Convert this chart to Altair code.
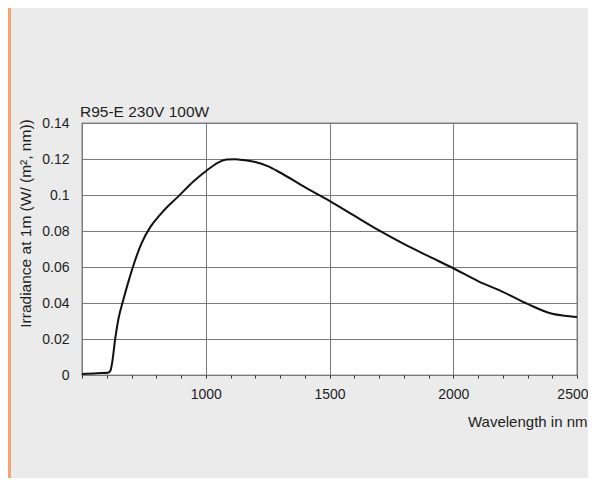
import altair as alt
import pandas as pd

# Spectral irradiance
wavelength = [500, 560, 605, 615, 622, 634, 647, 667, 690, 708, 740, 775, 815,
              850, 883, 950, 1000, 1050, 1085, 1120, 1152, 1200, 1250, 1300,
              1400, 1500, 1600, 1700, 1800, 1900, 2000, 2100, 2200, 2300, 2400,
              2450, 2500]
irradiance = [0.0005, 0.001, 0.0012, 0.0025, 0.007, 0.020, 0.031, 0.0418, 0.053,
              0.061, 0.073, 0.082, 0.089, 0.0942, 0.0984, 0.1075, 0.1132, 0.1180,
              0.1197, 0.1198, 0.1194, 0.1183, 0.1160, 0.1125, 0.1044, 0.0968,
              0.0885, 0.0803, 0.0728, 0.0660, 0.0593, 0.0522, 0.0462, 0.0395,
              0.0340, 0.0329, 0.0322]

x_ticks = list(range(500, 2600, 100))
y_ticks = [0, 0.02, 0.04, 0.06, 0.08, 0.1, 0.12, 0.14]

title_text = "R95-E 230V 100W"
x_title = "Wavelength in nm"
y_title = "Irradiance at 1m (W/ (m², nm))"

FONT = "Liberation Sans"
TXT = "#1e1e1e"

df = pd.DataFrame({"wl": wavelength, "irr": irradiance})

line = alt.Chart(df).mark_line(color="#111111", strokeWidth=2, interpolate="monotone").encode(
    x=alt.X(
        "wl:Q",
        scale=alt.Scale(domain=[500, 2500], nice=False, zero=False),
        axis=alt.Axis(
            values=x_ticks,
            format="d",
            labelExpr="datum.value % 500 === 0 && datum.value > 500 ? datum.label : ''",
            labelOverlap=False,
            labelFlush=True,
            labelFlushOffset=11,
            labelPadding=9,
            labelFontSize=14,
            labelFont=FONT,
            labelColor=TXT,
            domain=False,
            ticks=True,
            tickSize=3,
            tickColor="#333333",
            grid=True,
            gridColor="#7a7a7a",
            gridWidth=1,
            gridOpacity={"condition": {"test": "datum.value % 500 === 0", "value": 1}, "value": 0},
            title=x_title,
            titleFont=FONT,
            titleFontSize=15,
            titleFontWeight="normal",
            titleColor=TXT,
            titleAlign="right",
            titleAnchor="end",
            titleBaseline="alphabetic",
            titleX=505,
            titleY=51,
        ),
    ),
    y=alt.Y(
        "irr:Q",
        scale=alt.Scale(domain=[0, 0.14], nice=False),
        axis=alt.Axis(
            values=y_ticks,
            format="~g",
            labelFontSize=14,
            labelFont=FONT,
            labelColor=TXT,
            labelPadding=13,
            ticks=False,
            tickSize=0,
            domain=False,
            grid=True,
            gridColor="#7a7a7a",
            gridWidth=1,
            title=y_title,
            titleFont=FONT,
            titleFontSize=15.5,
            titleFontWeight="normal",
            titleColor=TXT,
            titleAngle=270,
            titleAlign="center",
            titleBaseline="alphabetic",
            titleX=-52,
            titleY=100,
        ),
    ),
)

strip = alt.Chart(alt.Data(values=[{"a": 1}])).mark_rect(color="#f3a472").encode(
    x=alt.value(-74), x2=alt.value(-71), y=alt.value(-115), y2=alt.value(355)
)

title = alt.Chart(alt.Data(values=[{"t": title_text}])).mark_text(
    align="left", baseline="alphabetic", fontSize=15.5, font=FONT, color=TXT
).encode(x=alt.value(-2), y=alt.value(-6), text="t:N")

chart = alt.layer(strip, line, title).properties(
    width=495,
    height=252,
    autosize=alt.AutoSizeParams(type="none"),
    padding={"left": 74, "top": 115, "right": 11, "bottom": 103},
    background="#ebebeb",
).configure_view(
    fill="#ffffff", stroke="#333333", strokeWidth=1.2
)

chart.save("out.html", embed_options={"renderer": "svg", "actions": False})
